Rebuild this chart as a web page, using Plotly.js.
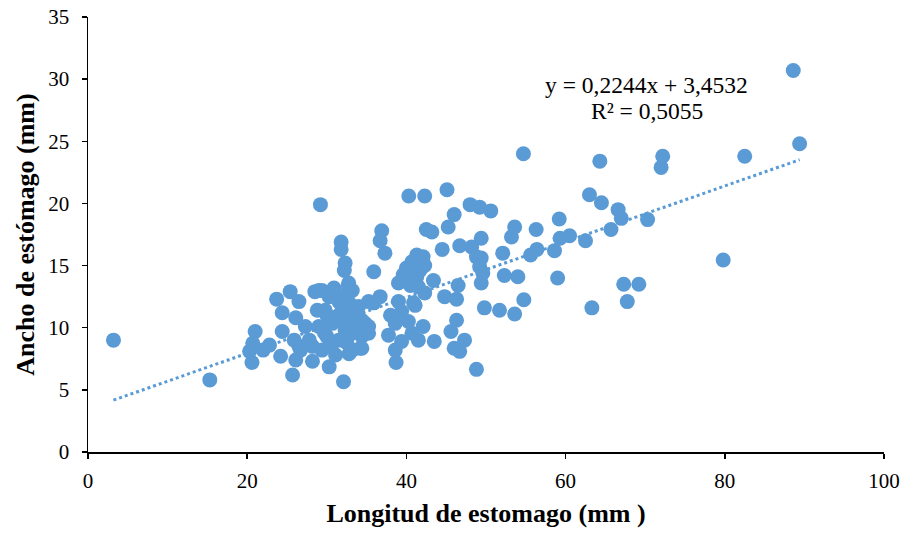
<!DOCTYPE html>
<html>
<head>
<meta charset="utf-8">
<script src="https://cdn.plot.ly/plotly-3.0.1.min.js"></script>
<style>
  html, body { margin: 0; padding: 0; background: #fff; }
  #chart { width: 906px; height: 534px; }
</style>
</head>
<body>
<div id="chart"></div>
<script>
// Longitud de estomago (mm)
const longitud = [
    3.2, 15.3, 29.2, 32.1,
    21.0, 20.7, 20.3, 20.6, 22.8, 23.7, 25.4, 24.4, 26.5, 26.1, 28.5, 29.0, 28.8, 29.8,
    24.4, 24.2, 25.7, 27.3, 29.0, 28.2, 26.1, 26.5, 28.2, 25.9, 26.7, 27.8, 29.4, 30.3,
    31.1, 31.5, 30.7, 32.3, 33.2, 34.2, 32.8, 30.3, 31.9, 22.0,
    31.8, 31.8, 32.3, 32.2, 30.9, 32.7, 33.2, 32.1, 31.5, 29.4, 32.75, 35.9, 35.9, 36.7,
    34.0, 35.25, 34.4, 35.25, 34.4, 34.8, 35.25, 34.4, 33.2,
    30.0, 31.0, 32.0, 33.0, 30.5, 32.5, 33.5, 31.5, 30.0, 33.8, 32.8, 29.7,
    36.9, 36.7, 37.3, 38.0, 39.4, 41.1, 38.6, 40.25, 42.1, 40.7, 37.75, 41.5, 38.6, 39.4,
    38.7, 43.5, 39.0, 40.9,
    41.3, 42.1, 40.7, 42.3, 40.0, 41.7, 39.6, 41.3, 39.0, 40.5, 41.5, 42.3, 43.4,
    40.3, 42.3, 45.1, 48.0, 49.2, 50.6, 46.0, 45.25, 42.5, 43.2, 44.5, 46.7, 48.2, 49.4,
    48.8, 49.2, 49.6, 49.4, 46.5, 44.8, 46.3, 49.8, 51.7, 53.6,
    46.3, 45.6, 47.3, 46.0, 46.7, 48.8,
    52.1, 53.2, 53.6, 52.3, 54.0, 54.7, 63.0, 64.5, 64.3, 66.6, 67.0, 70.3, 65.7, 62.5,
    59.2, 56.3, 59.3, 60.5, 58.6, 56.4, 55.6, 49.4, 59.0, 67.3, 69.2, 67.75, 54.75, 63.3,
    72.2, 72.0, 79.8, 82.5, 88.6, 89.4
];

// Ancho de estómago (mm)
const ancho = [
    9.0, 5.8, 19.9, 5.65,
    9.7, 8.75, 8.1, 7.2, 8.6, 12.3, 12.9, 11.2, 12.1, 10.8, 12.9, 13.0, 11.4, 11.4,
    9.7, 7.7, 6.2, 10.1, 10.1, 7.3, 7.4, 8.5, 8.5, 9.0, 8.2, 9.0, 8.2, 6.85,
    7.8, 9.0, 10.35, 9.8, 10.6, 8.35, 12.0, 12.5, 11.4, 8.2,
    16.9, 16.3, 15.2, 14.6, 13.2, 13.4, 13.0, 12.6, 12.1, 13.0, 13.6, 14.5, 12.0, 12.5,
    11.7, 12.1, 10.6, 10.1, 9.3, 10.35, 9.55, 8.35, 8.2,
    9.3, 10.8, 10.5, 9.5, 8.5, 8.8, 11.0, 11.0, 11.0, 9.9, 7.9, 9.6,
    17.8, 17.0, 16.0, 11.0, 11.3, 11.8, 10.35, 10.5, 10.1, 9.55, 9.4, 9.0, 8.2, 8.9,
    7.2, 8.9, 12.1, 12.0,
    15.85, 15.7, 15.3, 15.0, 14.8, 14.6, 14.25, 14.1, 13.6, 13.4, 13.3, 12.8, 13.8,
    20.6, 20.6, 21.1, 19.9, 19.7, 19.4, 19.1, 18.1, 17.9, 17.7, 16.3, 16.6, 16.5, 17.2,
    15.7, 14.9, 14.4, 13.6, 13.4, 12.5, 12.3, 11.6, 11.4, 11.1,
    10.6, 9.7, 9.0, 8.35, 8.1, 6.65,
    16.0, 17.3, 18.1, 14.2, 14.1, 24.0, 20.7, 20.05, 23.4, 19.5, 18.8, 18.7, 17.9, 17.0,
    18.75, 17.9, 17.2, 17.4, 16.2, 16.3, 15.85, 15.6, 14.0, 13.5, 13.5, 12.1, 12.25, 11.6,
    23.8, 22.9, 15.45, 23.8, 30.7, 24.8
];

// Linear trendline reported on the chart
const slope = 0.2244;
const intercept = 3.4532;
const r2Text = '0,5055';

const BLUE = '#5B9BD5';
const FONT = 'Liberation Serif, Times New Roman, serif';

const xMin = Math.min(...longitud);
const xMax = Math.max(...longitud);
const trendX = [xMin, xMax];
const trendY = trendX.map(x => slope * x + intercept);

const fmt = v => v.toFixed(4).replace('.', ',');

Plotly.newPlot('chart', [
    {
        x: longitud,
        y: ancho,
        type: 'scatter',
        mode: 'markers',
        marker: { color: BLUE, size: 15 },
        hoverinfo: 'x+y'
    },
    {
        x: trendX,
        y: trendY,
        type: 'scatter',
        mode: 'lines',
        line: { color: BLUE, width: 3, dash: 'dot' },
        hoverinfo: 'skip'
    }
], {
    width: 906,
    height: 534,
    margin: { l: 88, r: 22, t: 17, b: 82 },
    paper_bgcolor: '#fff',
    plot_bgcolor: '#fff',
    showlegend: false,
    font: { family: FONT, color: '#000', size: 21 },
    xaxis: {
        range: [0, 100],
        dtick: 20,
        showgrid: false,
        zeroline: false,
        showline: true,
        linecolor: '#000',
        linewidth: 1.5,
        ticks: 'outside',
        ticklen: 5,
        tickwidth: 1.5,
        tickcolor: '#000',
        ticklabelstandoff: 4,
        tickfont: { family: FONT, size: 21 },
        title: { text: '<b>Longitud de estomago (mm )</b>', font: { family: FONT, size: 26 }, standoff: 12 }
    },
    yaxis: {
        range: [0, 35],
        dtick: 5,
        showgrid: false,
        zeroline: false,
        showline: true,
        linecolor: '#000',
        linewidth: 1.5,
        ticks: 'outside',
        ticklen: 5,
        tickwidth: 1.5,
        tickcolor: '#000',
        ticklabelstandoff: 8,
        tickfont: { family: FONT, size: 21 },
        title: { text: '<b>Ancho de estómago (mm)</b>', font: { family: FONT, size: 26 }, standoff: 6 }
    },
    annotations: [
        {
            x: 70.2, y: 29.5, xref: 'x', yref: 'y',
            text: 'y = ' + fmt(slope) + 'x + ' + fmt(intercept),
            showarrow: false,
            font: { family: FONT, size: 23.5, color: '#000' }
        },
        {
            x: 70.2, y: 27.4, xref: 'x', yref: 'y',
            text: 'R² = ' + r2Text,
            showarrow: false,
            font: { family: FONT, size: 23.5, color: '#000' }
        }
    ]
}, { staticPlot: true });
</script>
</body>
</html>
